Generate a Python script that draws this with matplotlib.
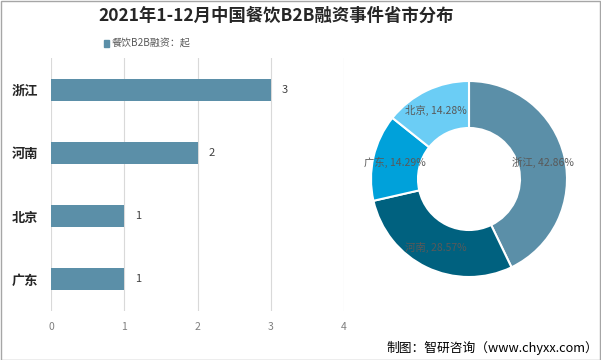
import matplotlib
matplotlib.use("Agg")
import matplotlib.pyplot as plt
from matplotlib.patches import Rectangle

plt.rcParams['font.family'] = ['Noto Sans CJK SC', 'DejaVu Sans']

# data
provinces = ["浙江", "河南", "北京", "广东"]
counts = [3, 2, 1, 1]
pie_names = ["浙江", "河南", "广东", "北京"]
pie_pcts = [42.86, 28.57, 14.29, 14.28]
pie_colors = ["#5B8FA8", "#00617F", "#00A1DA", "#6BCDF5"]
bar_color = "#5B8FA8"

W, H = 601, 360
fig = plt.figure(figsize=(W / 100, H / 100), dpi=100)

def px(x0, y0, w, h):
    # pixel box (top-left origin) -> figure fraction
    return [x0 / W, 1 - (y0 + h) / H, w / W, h / H]

# border
fig.patches.append(Rectangle((0.5 / W, 0.5 / H), 1 - 1.5 / W, 1 - 1.5 / H,
                             transform=fig.transFigure, fill=False,
                             edgecolor="#A6A6A6", lw=1))

fig.text(276 / W, 1 - 16 / H, "2021年1-12月中国餐饮B2B融资事件省市分布",
         ha="center", va="center", fontsize=12.5, fontweight="bold", color="#262626")

# legend
fig.patches.append(Rectangle((104 / W, 1 - 47 / H), 5 / W, 7 / H,
                             transform=fig.transFigure, color=bar_color))
fig.text(112 / W, 1 - 43 / H, "餐饮B2B融资：起", ha="left", va="center",
         fontsize=7.2, color="#595959")

# bar chart
ax = fig.add_axes(px(51, 58, 293, 253))
y = list(range(len(provinces)))
ax.barh(y, counts, height=0.35, color=bar_color)
ax.set_yticks(y)
ax.set_yticklabels(provinces, fontsize=9.5, fontweight="bold", color="#262626")
ax.set_ylim(3.5, -0.5)
ax.set_xlim(0, 4)
ax.set_xticks([0, 1, 2, 3, 4])
ax.tick_params(axis="x", labelsize=7.5, labelcolor="#7F7F7F", length=0, pad=8)
ax.tick_params(axis="y", length=0, pad=9.5)
ax.grid(axis="x", color="#D9D9D9", lw=0.8)
ax.set_axisbelow(True)
for s in ax.spines.values():
    s.set_visible(False)
for yi, c in zip(y, counts):
    ax.text(c + 0.15, yi, str(c), va="center", ha="left", fontsize=8, color="#404040")

# donut
ax2 = fig.add_axes(px(369, 79, 200, 200))
wedges, texts = ax2.pie(pie_pcts, colors=pie_colors, startangle=90, counterclock=False,
                        radius=0.98, labels=[f"{n}, {p:.2f}%" for n, p in zip(pie_names, pie_pcts)],
                        labeldistance=0.76 / 0.98,
                        wedgeprops=dict(width=0.47, edgecolor="white", linewidth=1.5),
                        textprops=dict(fontsize=7.5, color="#595959"))
for t in texts:
    t.set_horizontalalignment("center")
ax2.set_xlim(-1, 1)
ax2.set_ylim(-1, 1)
ax2.set_aspect("equal")
ax2.axis("off")

fig.text(598 / W, 1 - 348 / H, "制图：智研咨询（www.chyxx.com）", ha="right", va="center",
         fontsize=9.2, color="#000000")

fig.savefig("out.png", dpi=100)
